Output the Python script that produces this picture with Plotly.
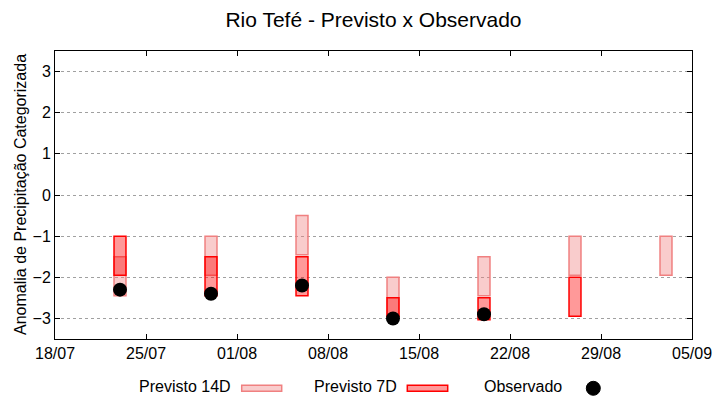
import plotly.graph_objects as go

# ---- data ----
dates = ["2024-07-23", "2024-07-30", "2024-08-06", "2024-08-13",
         "2024-08-20", "2024-08-27", "2024-09-03"]
p14_top = [-1.5, -1.0, -0.5, -2.0, -1.5, -1.0, -1.0]
p14_bot = [-2.45, -1.95, -1.45, -2.95, -2.45, -1.95, -1.95]
p7_top = [-1.0, -1.5, -1.5, -2.5, -2.5, -2.0, None]
p7_bot = [-1.95, -2.45, -2.45, -2.95, -3.03, -2.95, None]
obs = [-2.3, -2.4, -2.2, -3.0, -2.9, None, None]

x_ticks = ["2024-07-18", "2024-07-25", "2024-08-01", "2024-08-08",
           "2024-08-15", "2024-08-22", "2024-08-29", "2024-09-05"]
x_ticklabels = ["18/07", "25/07", "01/08", "08/08", "15/08", "22/08", "29/08", "05/09"]
y_ticks = [-3, -2, -1, 0, 1, 2, 3]

title = "Rio Tefé - Previsto x Observado"
ytitle = "Anomalia de Precipitação Categorizada"
legend_names = ["Previsto 14D", "Previsto 7D", "Observado"]

# ---- styles ----
C14_FILL = "rgba(240,128,128,0.4)"
C14_LINE = "rgb(240,128,128)"
C7_FILL = "rgba(255,0,0,0.4)"
C7_LINE = "rgb(255,0,0)"
FONT = "Liberation Sans, Arial, sans-serif"
BAR_W = 0.92 * 86400000

W, H = 720, 400
ML, MR, MT, MB = 55, 28, 51, 61
PW, PH = W - ML - MR, H - MT - MB


def px2paper(px, py):
    return (px - ML) / PW, (H - MB - py) / PH


fig = go.Figure()

d14 = [(d, t, b) for d, t, b in zip(dates, p14_top, p14_bot) if t is not None]
fig.add_trace(go.Bar(
    x=[d for d, _, _ in d14], base=[b for _, _, b in d14],
    y=[t - b for _, t, b in d14], width=BAR_W,
    marker=dict(color=C14_FILL, line=dict(color=C14_LINE, width=1.5)),
    name=legend_names[0], showlegend=False, hoverinfo="skip"))

d7 = [(d, t, b) for d, t, b in zip(dates, p7_top, p7_bot) if t is not None]
fig.add_trace(go.Bar(
    x=[d for d, _, _ in d7], base=[b for _, _, b in d7],
    y=[t - b for _, t, b in d7], width=BAR_W,
    marker=dict(color=C7_FILL, line=dict(color=C7_LINE, width=1.5)),
    name=legend_names[1], showlegend=False, hoverinfo="skip"))

do = [(d, v) for d, v in zip(dates, obs) if v is not None]
fig.add_trace(go.Scatter(
    x=[d for d, _ in do], y=[v for _, v in do], mode="markers",
    marker=dict(color="black", size=14),
    name=legend_names[2], showlegend=False, hoverinfo="skip"))

# ---- manual gnuplot-style key (text then sample) ----
shapes = []
annotations = []
key_items = [
    (legend_names[0], 233, 241.7, 281.7, C14_FILL, C14_LINE),
    (legend_names[1], 399, 407.3, 447.7, C7_FILL, C7_LINE),
]
for name, tx, bx0, bx1, fill, line in key_items:
    ax, ay = px2paper(tx, 386)
    annotations.append(dict(text=name, x=ax, y=ay, xref="paper", yref="paper",
                            xanchor="right", yanchor="middle", showarrow=False,
                            font=dict(size=16, color="black", family=FONT)))
    x0, y0 = px2paper(bx0, 391.3)
    x1, y1 = px2paper(bx1, 385.3)
    shapes.append(dict(type="rect", xref="paper", yref="paper",
                       x0=x0, x1=x1, y0=y0, y1=y1,
                       fillcolor=fill, line=dict(color=line, width=1.5)))
ax, ay = px2paper(563.5, 386)
annotations.append(dict(text=legend_names[2], x=ax, y=ay, xref="paper", yref="paper",
                        xanchor="right", yanchor="middle", showarrow=False,
                        font=dict(size=16, color="black", family=FONT)))
x0, y0 = px2paper(586.3, 395.3)
x1, y1 = px2paper(600.3, 381.3)
shapes.append(dict(type="circle", xref="paper", yref="paper",
                   x0=x0, x1=x1, y0=y0, y1=y1,
                   fillcolor="black", line=dict(color="black", width=1)))

# y-axis title as a rotated annotation (gnuplot style placement)
yt_x, yt_y = px2paper(20, (MT + H - MB) / 2)
annotations.append(dict(text=ytitle, x=yt_x, y=yt_y, xref="paper", yref="paper",
                        xanchor="center", yanchor="middle", textangle=-90,
                        showarrow=False, font=dict(size=16, color="black", family=FONT)))

fig.update_layout(
    template="none",
    width=W, height=H,
    margin=dict(l=ML, r=MR, t=MT, b=MB, pad=0, autoexpand=False),
    paper_bgcolor="white", plot_bgcolor="white",
    barmode="overlay",
    font=dict(family=FONT, size=16, color="black"),
    title=dict(text=title, x=(ML + PW / 2) / W, xanchor="center",
               y=1 - 20 / H, yanchor="middle", yref="container",
               font=dict(size=21, color="black", family=FONT)),
    shapes=shapes, annotations=annotations,
    showlegend=False,
)
fig.update_xaxes(
    type="date", range=[x_ticks[0], x_ticks[-1]],
    tickvals=x_ticks, ticktext=x_ticklabels,
    showgrid=False, zeroline=False, automargin=False,
    showline=True, linecolor="black", linewidth=1, mirror="ticks",
    ticks="inside", ticklen=5, tickcolor="black", tickwidth=1,
    tickfont=dict(size=16, color="black"),
    ticklabelstandoff=0,
)
fig.update_yaxes(
    range=[-3.5, 3.5], tickvals=y_ticks,
    showgrid=True, gridcolor="#a0a0a0", griddash="dot", gridwidth=1,
    zeroline=False, automargin=False,
    showline=True, linecolor="black", linewidth=1, mirror="ticks",
    ticks="inside", ticklen=5, tickcolor="black", tickwidth=1,
    tickfont=dict(size=16, color="black"),
)

post = (
    "document.documentElement.style.margin='0';"
    "document.documentElement.style.padding='0';"
    "document.documentElement.style.overflow='hidden';"
    "document.body.style.margin='0';"
    "document.body.style.padding='0';"
    "document.body.style.overflow='hidden';"
)
fig.write_html("out.html", config={"displayModeBar": False, "staticPlot": True},
               post_script=post)
